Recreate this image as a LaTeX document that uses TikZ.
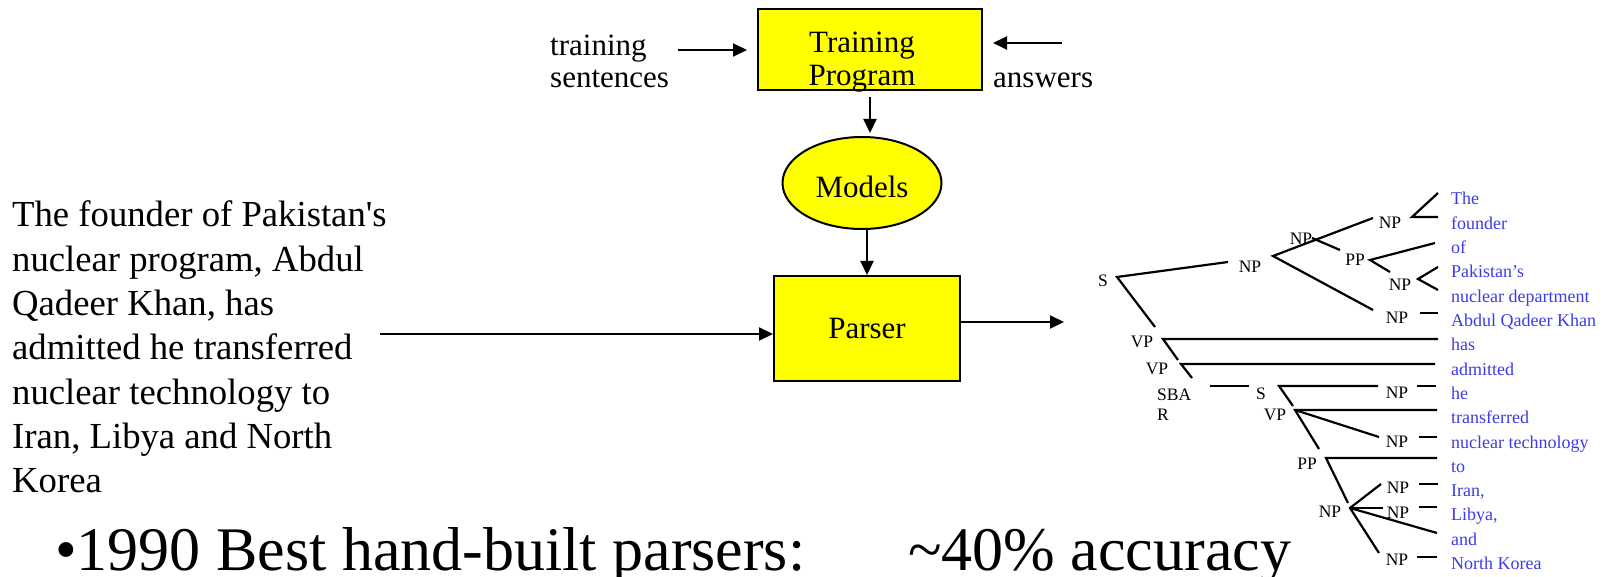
\documentclass[tikz,border=0pt]{standalone}
\usepackage{fontspec}
\setmainfont{Liberation Serif}
\newfontfamily\plainserif{Liberation Serif}[Ligatures=TeXOff]
\usetikzlibrary{arrows.meta,shapes.geometric}
\definecolor{boxyellow}{RGB}{255,255,0}
\definecolor{leafblue}{RGB}{60,60,230}
\tikzset{
  ybox/.style={draw=black, line width=2pt, fill=boxyellow, inner sep=0pt},
  arr/.style={line width=2pt, -{Triangle[length=14pt,width=13pt]}},
  branch/.style={line width=2.2pt},
  cat/.style={font=\fontsize{17.5}{20}\selectfont, inner sep=0pt},
  leaf/.style={font=\fontsize{18}{20}\selectfont, text=leafblue, inner sep=0pt, anchor=base west},
  midtext/.style={font=\fontsize{31}{32}\selectfont, inner sep=0pt},
}
\begin{document}
\begin{tikzpicture}[x=1pt,y=-1pt]
\useasboundingbox (0,0) rectangle (1604,577);

% ---- training stage ----
\node[ybox, minimum width=224pt, minimum height=81pt] (tp) at (870,49.5) {};
\node[midtext, anchor=base, font=\fontsize{31}{33}\selectfont] (tptxt) at (862,53)
  {\begin{tabular}[t]{@{}c@{}}Training\\Program\end{tabular}};
\node[midtext, anchor=base west] (trs) at (550,56)
  {\begin{tabular}[t]{@{}l@{}}training\\sentences\end{tabular}};
\node[midtext, anchor=base west] (ans) at (993,88) {answers};
\coordinate (trsarr) at (678,50);
\coordinate (ansarr) at (1062,43);
\draw[arr, shorten >=10pt] (trsarr) -- (tp.west |- trsarr);
\draw[arr, shorten >=10pt] (ansarr) -- (tp.east |- ansarr);

% ---- models ----
\node[ybox, ellipse, minimum width=159pt, minimum height=92pt] (models) at (862,183) {};
\node[midtext] (modtxt) at (862,187) {Models};
\coordinate (tpout) at (870,90);
\draw[arr, shorten <=7pt, shorten >=3pt] (tpout) -- (tpout |- models.north);

% ---- parser ----
\node[ybox, minimum width=186pt, minimum height=105pt, font=\fontsize{31}{31}\selectfont] (parser) at (867,328.5) {Parser};
\draw[arr] (parser.north |- models.south) -- (parser.north);
\coordinate (sentarr) at (380,334);
\draw[arr] (sentarr) -- (parser.west |- sentarr);
\coordinate (treearr) at (1064,322);
\draw[arr] (parser.east |- treearr) -- (treearr);

% ---- input sentence ----
\node[anchor=base west, inner sep=0pt, font=\fontsize{36.7}{44.3}\selectfont\plainserif] (sent) at (12,227)
  {\begin{tabular}[t]{@{}l@{}}The founder of Pakistan's\\nuclear program, Abdul\\Qadeer Khan, has\\admitted he transferred\\nuclear technology to\\Iran, Libya and North\\Korea\end{tabular}};

% ---- bottom line ----
\node[anchor=base west, inner sep=0pt, font=\fontsize{62}{62}\selectfont] (best) at (55,570)
  {•1990 Best hand-built parsers:};
\node[anchor=base west, inner sep=0pt, font=\fontsize{62}{62}\selectfont] (acc) at (908,570)
  {\textasciitilde 40\% accuracy};

% ---- parse tree: category labels ----
\node[cat] (s0) at (1103,281) {S};
\node[cat] (npa) at (1250,267) {NP};
\node[cat] (npb) at (1301,239) {NP};
\node[cat] (npc) at (1390,223) {NP};
\node[cat] (ppa) at (1355,260) {PP};
\node[cat] (npd) at (1400,285) {NP};
\node[cat] (npe) at (1397,318) {NP};
\node[cat] (vp1) at (1142,342) {VP};
\node[cat] (vp2) at (1157,369) {VP};
\node[cat, anchor=base west] (sbar) at (1157,400)
  {\begin{tabular}[t]{@{}l@{}}SBA\\R\end{tabular}};
\node[cat] (s1) at (1261,394) {S};
\node[cat] (npf) at (1397,393) {NP};
\node[cat] (vp3) at (1275,415) {VP};
\node[cat] (npg) at (1397,442) {NP};
\node[cat] (ppb) at (1307,464) {PP};
\node[cat] (nph) at (1330,512) {NP};
\node[cat] (npi) at (1398,488) {NP};
\node[cat] (npj) at (1398,513) {NP};
\node[cat] (npk) at (1397,560) {NP};

% ---- parse tree: words ----
\node[leaf] (w1) at (1451,205) {The};
\node[leaf] (w2) at (1451,229.3) {founder};
\node[leaf] (w3) at (1451,253.6) {of};
\node[leaf] (w4) at (1451,277.9) {Pakistan’s};
\node[leaf] (w5) at (1451,302.2) {nuclear department};
\node[leaf] (w6) at (1451,326.5) {Abdul Qadeer Khan};
\node[leaf] (w7) at (1451,350.8) {has};
\node[leaf] (w8) at (1451,375.1) {admitted};
\node[leaf] (w9) at (1451,399.4) {he};
\node[leaf] (w10) at (1451,423.7) {transferred};
\node[leaf] (w11) at (1451,448) {nuclear technology};
\node[leaf] (w12) at (1451,472.3) {to};
\node[leaf] (w13) at (1451,496.6) {Iran,};
\node[leaf] (w14) at (1451,520.9) {Libya,};
\node[leaf] (w15) at (1451,545.2) {and};
\node[leaf] (w16) at (1451,569.5) {North Korea};

% ---- parse tree: branch points ----
\coordinate (s0j) at (1117,277);
\coordinate (npain) at (1228,262);
\coordinate (npaj) at (1273,256);
\coordinate (npcin) at (1373,218);
\coordinate (npein) at (1373,310);
\coordinate (npbj) at (1312,238);
\coordinate (ppain) at (1340,250);
\coordinate (npcj) at (1412,217);
\coordinate (npcup) at (1438,193);
\coordinate (npcrt) at (1438,217);
\coordinate (ppaj) at (1370,260);
\coordinate (ppaup) at (1435,243);
\coordinate (npdin) at (1390,272);
\coordinate (npdj) at (1418,279);
\coordinate (npdup) at (1438,267);
\coordinate (npddn) at (1438,290);
\coordinate (npea) at (1420,313);
\coordinate (npeb) at (1438,313);
\coordinate (vp1in) at (1155,327);
\coordinate (vp1j) at (1163,339);
\coordinate (vp1rt) at (1438,339);
\coordinate (vp2in) at (1178,360);
\coordinate (vp2j) at (1181,364);
\coordinate (vp2rt) at (1435,364);
\coordinate (sbarin) at (1192,378);
\coordinate (sbara) at (1210,386);
\coordinate (sbarb) at (1249,386);
\coordinate (s1j) at (1279,386);
\coordinate (npfin) at (1378,386);
\coordinate (vp3in) at (1293,406);
\coordinate (npfa) at (1417,386);
\coordinate (npfb) at (1436,386);
\coordinate (vp3j) at (1295,410);
\coordinate (vp3rt) at (1437,410);
\coordinate (npgin) at (1379,437);
\coordinate (ppbin) at (1319,449);
\coordinate (npga) at (1419,437);
\coordinate (npgb) at (1437,437);
\coordinate (ppbj) at (1326,458);
\coordinate (ppbrt) at (1437,458);
\coordinate (nphin) at (1348,503);
\coordinate (nphj) at (1350,508);
\coordinate (npiin) at (1381,484);
\coordinate (npjin) at (1383,508);
\coordinate (andrt) at (1437,533);
\coordinate (npkin) at (1379,553);
\coordinate (npia) at (1419,484);
\coordinate (npib) at (1438,484);
\coordinate (npja) at (1419,507);
\coordinate (npjb) at (1437,507);
\coordinate (npka) at (1417,557);
\coordinate (npkb) at (1437,557);

% ---- parse tree: branches ----
\draw[branch] (npain) -- (s0j) -- (vp1in);
\draw[branch] (npcin) -- (npaj) -- (npein);
\draw[branch] (npbj) -- (ppain);
\draw[branch] (npcup) -- (npcj) -- (npcrt);
\draw[branch] (ppaup) -- (ppaj) -- (npdin);
\draw[branch] (npdup) -- (npdj) -- (npddn);
\draw[branch] (npea) -- (npeb);
\draw[branch] (vp1rt) -- (vp1j) -- (vp2in);
\draw[branch] (vp2rt) -- (vp2j) -- (sbarin);
\draw[branch] (sbara) -- (sbarb);
\draw[branch] (npfin) -- (s1j) -- (vp3in);
\draw[branch] (npfa) -- (npfb);
\draw[branch] (vp3rt) -- (vp3j) -- (ppbin);
\draw[branch] (vp3j) -- (npgin);
\draw[branch] (npga) -- (npgb);
\draw[branch] (ppbrt) -- (ppbj) -- (nphin);
\draw[branch] (npiin) -- (nphj) -- (npkin);
\draw[branch] (nphj) -- (npjin);
\draw[branch] (nphj) -- (andrt);
\draw[branch] (npia) -- (npib);
\draw[branch] (npja) -- (npjb);
\draw[branch] (npka) -- (npkb);
\end{tikzpicture}
\end{document}
